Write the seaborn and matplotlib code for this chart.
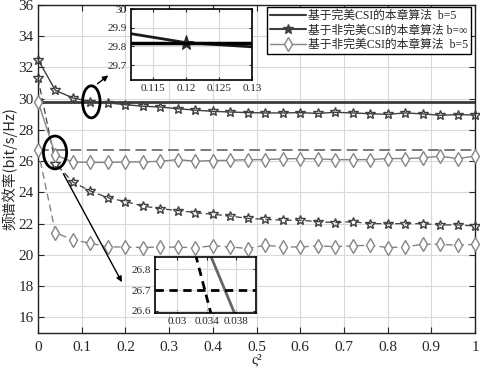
import numpy as np
import pandas as pd
import matplotlib
matplotlib.use("Agg")
import matplotlib.pyplot as plt
import seaborn as sns
from matplotlib.patches import Ellipse
from matplotlib.lines import Line2D

# ---------------- data ----------------
xi2 = [0.00, 0.04, 0.08, 0.12, 0.16, 0.20, 0.24, 0.28, 0.32, 0.36, 0.40, 0.44, 0.48,
       0.52, 0.56, 0.60, 0.64, 0.68, 0.72, 0.76, 0.80, 0.84, 0.88, 0.92, 0.96, 1.00]

perfect_b5_solid = 29.82     # 基于完美CSI的本章算法 b=5 (solid)
perfect_b5_dashed = 26.70    # dashed counterpart

imperfect_binf_solid = [32.50, 30.53, 30.05, 29.82, 29.73, 29.62, 29.52, 29.47, 29.36, 29.27,
                        29.19, 29.15, 29.11, 29.09, 29.09, 29.11, 29.06, 29.13, 29.09, 29.04,
                        29.00, 29.09, 29.03, 28.94, 28.98, 28.96]
imperfect_binf_dashed = [31.30, 25.85, 24.66, 24.09, 23.66, 23.41, 23.13, 22.96, 22.84, 22.71,
                         22.60, 22.49, 22.34, 22.28, 22.22, 22.22, 22.13, 22.07, 22.13, 22.00,
                         22.00, 22.00, 22.00, 21.92, 21.92, 21.85]
imperfect_b5_solid = [29.82, 26.40, 25.95, 25.92, 25.92, 25.95, 25.95, 26.00, 26.10, 26.00,
                      26.04, 26.06, 26.10, 26.10, 26.15, 26.17, 26.15, 26.10, 26.10, 26.10,
                      26.17, 26.17, 26.21, 26.32, 26.17, 26.32]
imperfect_b5_dashed = [26.70, 21.43, 20.96, 20.75, 20.51, 20.51, 20.47, 20.51, 20.49, 20.47,
                       20.58, 20.51, 20.41, 20.62, 20.51, 20.51, 20.58, 20.53, 20.58, 20.62,
                       20.47, 20.51, 20.68, 20.68, 20.62, 20.68]

legend_labels = ["基于完美CSI的本章算法  b=5",
                 "基于非完美CSI的本章算法 b=∞",
                 "基于非完美CSI的本章算法  b=5"]

x_ticks = [0, 0.1, 0.2, 0.3, 0.4, 0.5, 0.6, 0.7, 0.8, 0.9, 1.0]
x_ticklabels = ["0", "0.1", "0.2", "0.3", "0.4", "0.5", "0.6", "0.7", "0.8", "0.9", "1"]
y_ticks = [16, 18, 20, 22, 24, 26, 28, 30, 32, 34, 36]

inset1_xticks = [0.115, 0.12, 0.125, 0.13]
inset1_yticks = [29.7, 29.8, 29.9, 30.0]
inset2_xticks = [0.03, 0.034, 0.038]
inset2_yticks = [26.6, 26.7, 26.8]

df = pd.DataFrame({"x": xi2,
                   "binf_s": imperfect_binf_solid, "binf_d": imperfect_binf_dashed,
                   "b5_s": imperfect_b5_solid, "b5_d": imperfect_b5_dashed})

# ---------------- style ----------------
sns.set_style("ticks")
SERIF = ["Liberation Serif", "Noto Sans CJK SC"]
plt.rcParams["font.family"] = SERIF

C_DARK = "#3a3a3a"
C_STAR = "#404040"
C_GRAY = "#858585"
C_DGRAY = "#707070"
GRID = "#d9d9d9"

fig = plt.figure(figsize=(4.8, 3.69), dpi=100)
ax = fig.add_axes([38/480, 1-333/369, 437/480, 328/369])

# constant lines
ax.axhline(perfect_b5_solid, color=C_DARK, lw=2.0, zorder=3)
ax.axhline(perfect_b5_dashed, color=C_DGRAY, lw=1.3, ls=(0, (6, 3)), zorder=3)

star_kw = dict(marker="*", markersize=7, markerfacecolor="none", markeredgecolor=C_STAR,
               markeredgewidth=1.0, zorder=4, clip_on=False)
dia_kw = dict(marker="d", markersize=7, markerfacecolor="white", markeredgecolor=C_GRAY,
              markeredgewidth=1.0, zorder=4, clip_on=False)

sns.lineplot(data=df, x="x", y="binf_s", ax=ax, color=C_STAR, lw=1.0, **star_kw)
sns.lineplot(data=df, x="x", y="binf_d", ax=ax, color=C_STAR, lw=0.9, ls=(0, (5, 3)), **star_kw)
sns.lineplot(data=df, x="x", y="b5_s", ax=ax, color=C_GRAY, lw=1.0, **dia_kw)
sns.lineplot(data=df, x="x", y="b5_d", ax=ax, color=C_GRAY, lw=1.0, ls=(0, (5, 3)), **dia_kw)

ax.set_xlim(0, 1)
ax.set_ylim(15, 36)
ax.set_xticks(x_ticks)
ax.set_xticklabels(x_ticklabels)
ax.set_yticks(y_ticks)
ax.grid(True, color=GRID, lw=0.8)
ax.tick_params(direction="in", top=True, right=True, labelsize=11, length=4,
               width=0.8)
ax.tick_params(axis="x", pad=6)
ax.tick_params(axis="y", pad=3)
for s in ax.spines.values():
    s.set_color("#222222")
    s.set_linewidth(1.0)
ax.set_xlabel("ς²", family=["Liberation Serif", "DejaVu Serif"], fontsize=11, labelpad=-1)
ax.set_ylabel("频谱效率(bit/s/Hz)", family=["Noto Sans CJK SC", "Liberation Serif"],
              fontsize=10.5, labelpad=1)

# ellipses and arrows
ax.add_patch(Ellipse((0.122, 29.8), 0.040, 2.05, fill=False, ec="black", lw=2, zorder=6))
ax.add_patch(Ellipse((0.039, 26.56), 0.053, 2.1, fill=False, ec="black", lw=2, zorder=6))
ax.annotate("", xy=(0.166, 31.6), xytext=(0.131, 30.85),
            arrowprops=dict(arrowstyle="-|>", color="black", lw=1.0, mutation_scale=8),
            zorder=6)
ax.annotate("", xy=(0.195, 18.1), xytext=(0.055, 25.35),
            arrowprops=dict(arrowstyle="-|>", color="black", lw=1.0, mutation_scale=8),
            zorder=6)

# legend
handles = [Line2D([], [], color=C_DARK, lw=1.5),
           Line2D([], [], color=C_STAR, lw=1.5, marker="*", markersize=7,
                  markerfacecolor=C_STAR),
           Line2D([], [], color=C_GRAY, lw=1.0, marker="d", markersize=7,
                  markerfacecolor="white", markeredgecolor=C_GRAY)]
leg = ax.legend(handles, legend_labels, loc="upper right",
                bbox_to_anchor=(471/480, 1-7/369), bbox_transform=fig.transFigure,
                prop={"family": SERIF, "size": 8.5}, frameon=True, fancybox=False,
                edgecolor="black", framealpha=1, borderpad=0.25, labelspacing=0.2,
                handlelength=3.0, handletextpad=0.2, borderaxespad=0)
leg.get_frame().set_linewidth(1.0)

# inset 1
ax1 = fig.add_axes([131/480, 1-80/369, 121/480, 71/369])
sns.lineplot(data=df, x="x", y="binf_s", ax=ax1, color="#1a1a1a", lw=2.0, marker="*",
             markersize=11, markerfacecolor="#2a2a2a", markeredgecolor="#2a2a2a")
ax1.axhline(perfect_b5_solid, color="black", lw=2.5)
ax1.set_xlim(0.1117, 0.13)
ax1.set_ylim(29.62, 30.0)
ax1.set_xticks(inset1_xticks)
ax1.set_xticklabels(["0.115", "0.12", "0.125", "0.13"])
ax1.set_yticks(inset1_yticks)
ax1.set_yticklabels(["29.7", "29.8", "29.9", "30"])
ax1.grid(True, color=GRID, lw=0.8)
ax1.tick_params(direction="in", top=True, right=True, labelsize=8, length=2, pad=3)
ax1.set_xlabel("")
ax1.set_ylabel("")
for s in ax1.spines.values():
    s.set_color("black")
    s.set_linewidth(1.2)

# inset 2
ax2 = fig.add_axes([155/480, 1-313/369, 101/480, 56/369])
sns.lineplot(data=df, x="x", y="binf_d", ax=ax2, color="black", lw=2.0, ls=(0, (3, 2)))
sns.lineplot(data=df, x="x", y="b5_s", ax=ax2, color="#666666", lw=2.0)
ax2.axhline(perfect_b5_dashed, color="black", lw=2.0, ls=(0, (3, 2)))
ax2.set_xlim(0.027, 0.0407)
ax2.set_ylim(26.59, 26.86)
ax2.set_xticks(inset2_xticks)
ax2.set_xticklabels(["0.03", "0.034", "0.038"])
ax2.set_yticks(inset2_yticks)
ax2.grid(True, color=GRID, lw=0.8)
ax2.tick_params(direction="in", top=True, right=True, labelsize=8, length=2, pad=3)
ax2.set_xlabel("")
ax2.set_ylabel("")
for s in ax2.spines.values():
    s.set_color("black")
    s.set_linewidth(1.2)

fig.savefig("out.png", dpi=100, facecolor="white")
